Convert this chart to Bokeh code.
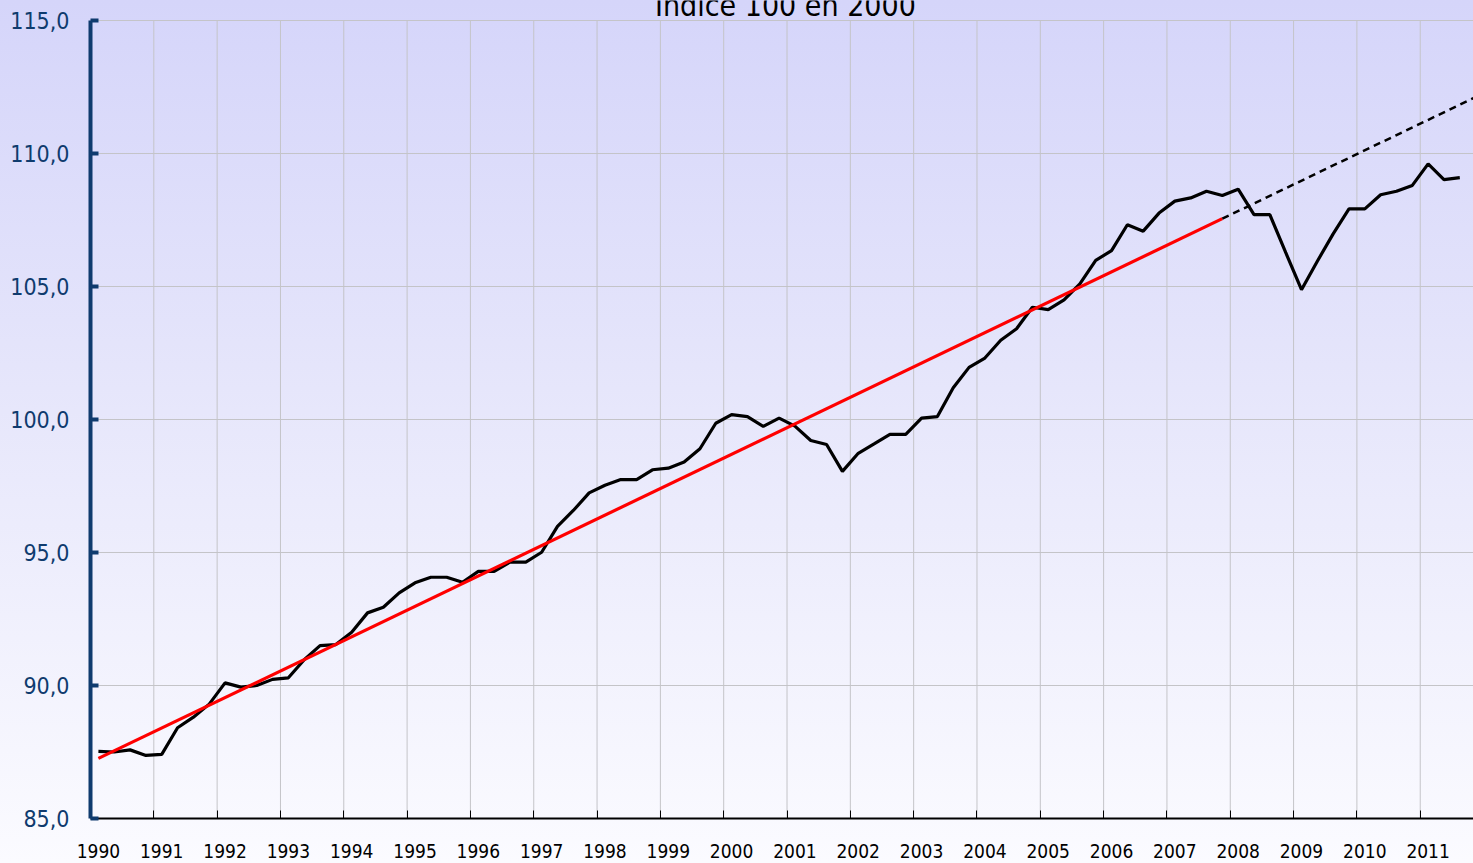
from bokeh.plotting import figure
from bokeh.models import FixedTicker, Label
from bokeh.embed import file_html
from bokeh.resources import INLINE

# Quarterly index (100 in 2000), 1990Q1 .. 2011Q3
years = list(range(1990, 2012))
values = [
    87.52, 87.50, 87.58, 87.37,   # 1990
    87.41, 88.41, 88.81, 89.30,   # 1991
    90.10, 89.94, 90.00, 90.23,   # 1992
    90.29, 90.97, 91.50, 91.54,   # 1993
    92.00, 92.73, 92.94, 93.48,   # 1994
    93.86, 94.07, 94.07, 93.88,   # 1995
    94.29, 94.29, 94.64, 94.64,   # 1996
    95.01, 95.98, 96.58, 97.24,   # 1997
    97.53, 97.74, 97.74, 98.11,   # 1998
    98.17, 98.40, 98.90, 99.86,   # 1999
    100.18, 100.11, 99.74, 100.05,  # 2000
    99.75, 99.21, 99.06, 98.05,   # 2001
    98.73, 99.08, 99.44, 99.44,   # 2002
    100.05, 100.11, 101.19, 101.96,  # 2003
    102.31, 102.98, 103.41, 104.22,  # 2004
    104.13, 104.50, 105.10, 105.98,  # 2005
    106.35, 107.32, 107.08, 107.76,  # 2006
    108.21, 108.33, 108.58, 108.42,  # 2007
    108.66, 107.70, 107.70, 106.28,  # 2008
    104.88, 105.95, 106.98, 107.92,  # 2009
    107.92, 108.45, 108.58, 108.80,  # 2010
    109.61, 109.02, 109.09,          # 2011
]
quarters = list(range(len(values)))

# Linear trend 1990Q1-2007Q4 (solid red) and its extension (dashed black)
trend_x = [0, 71]
trend_y = [87.26, 107.55]
ext_x = [71, 87]
ext_y = [107.55, 112.12]

y_ticks = [85, 90, 95, 100, 105, 110, 115]
y_labels = ["85,0", "90,0", "95,0", "100,0", "105,0", "110,0", "115,0"]
Y_MIN, Y_MAX = 85, 115

FONT = "'Liberation Sans Narrow', 'Arial Narrow', 'DejaVu Sans Condensed', sans-serif"
NAVY = "#0f3b6e"
GRID = "#c4c4c8"

# frame reaches the top of the canvas so the (partly cut) title can be drawn above 115
top_extra = 20 / 26.6
p = figure(width=1473, height=863, output_backend="svg", toolbar_location=None,
           x_range=(-0.5, -0.5 + 1383 / 15.83), y_range=(Y_MIN, Y_MAX + top_extra),
           min_border_left=90, min_border_right=0, min_border_top=0, min_border_bottom=45,
           styles={"background": "linear-gradient(to bottom, #d5d5fa 0%, #e6e6fb 45%, #fbfbff 100%)"})
p.border_fill_color = None
p.background_fill_color = None
p.outline_line_color = None

# grid: horizontal via the grid, vertical year boundaries limited to 85..115
p.xgrid.grid_line_color = None
p.ygrid.ticker = FixedTicker(ticks=y_ticks)
p.ygrid.grid_line_color = GRID
p.ygrid.grid_line_width = 1
bounds_x = [-0.5 + 4 * i for i in range(1, 23)]
p.segment(x0=bounds_x, y0=[Y_MIN] * len(bounds_x), x1=bounds_x, y1=[Y_MAX] * len(bounds_x),
          line_color=GRID, line_width=1)

# x axis: labels at Q1 of each year, small ticks at year boundaries
xa = p.xaxis[0]
xa.ticker = FixedTicker(ticks=[4 * i for i in range(len(years))], minor_ticks=bounds_x)
xa.major_label_overrides = {4 * i: str(y) for i, y in enumerate(years)}
xa.major_tick_in = 0
xa.major_tick_out = 0
xa.minor_tick_in = 8
xa.minor_tick_out = 0
xa.minor_tick_line_color = "black"
xa.axis_line_color = "black"
xa.axis_line_width = 2
xa.major_label_text_font = FONT
xa.major_label_text_font_size = "19px"
xa.major_label_text_color = "black"
xa.major_label_standoff = 25

ya = p.yaxis[0]
ya.bounds = (Y_MIN, Y_MAX)
ya.ticker = FixedTicker(ticks=y_ticks)
ya.major_label_overrides = dict(zip(y_ticks, y_labels))
ya.major_tick_in = 8
ya.major_tick_out = 0
ya.major_tick_line_width = 4
ya.major_tick_line_color = NAVY
ya.minor_tick_line_color = None
ya.axis_line_color = NAVY
ya.axis_line_width = 4
ya.major_label_text_font = FONT
ya.major_label_text_font_size = "23px"
ya.major_label_text_color = NAVY
ya.major_label_standoff = 21

p.line(quarters, values, line_color="black", line_width=3.2)
p.line(trend_x, trend_y, line_color="#ff0000", line_width=3.2)
p.line(ext_x, ext_y, line_color="black", line_width=2.5, line_dash="7 5")

title = Label(x=43.4, y=Y_MAX - 0.11, text="Indice 100 en 2000", text_align="center",
              text_baseline="bottom", text_font=FONT, text_font_size="30px",
              text_color="black")
p.add_layout(title)

open("out.html", "w").write(file_html(p, INLINE))
